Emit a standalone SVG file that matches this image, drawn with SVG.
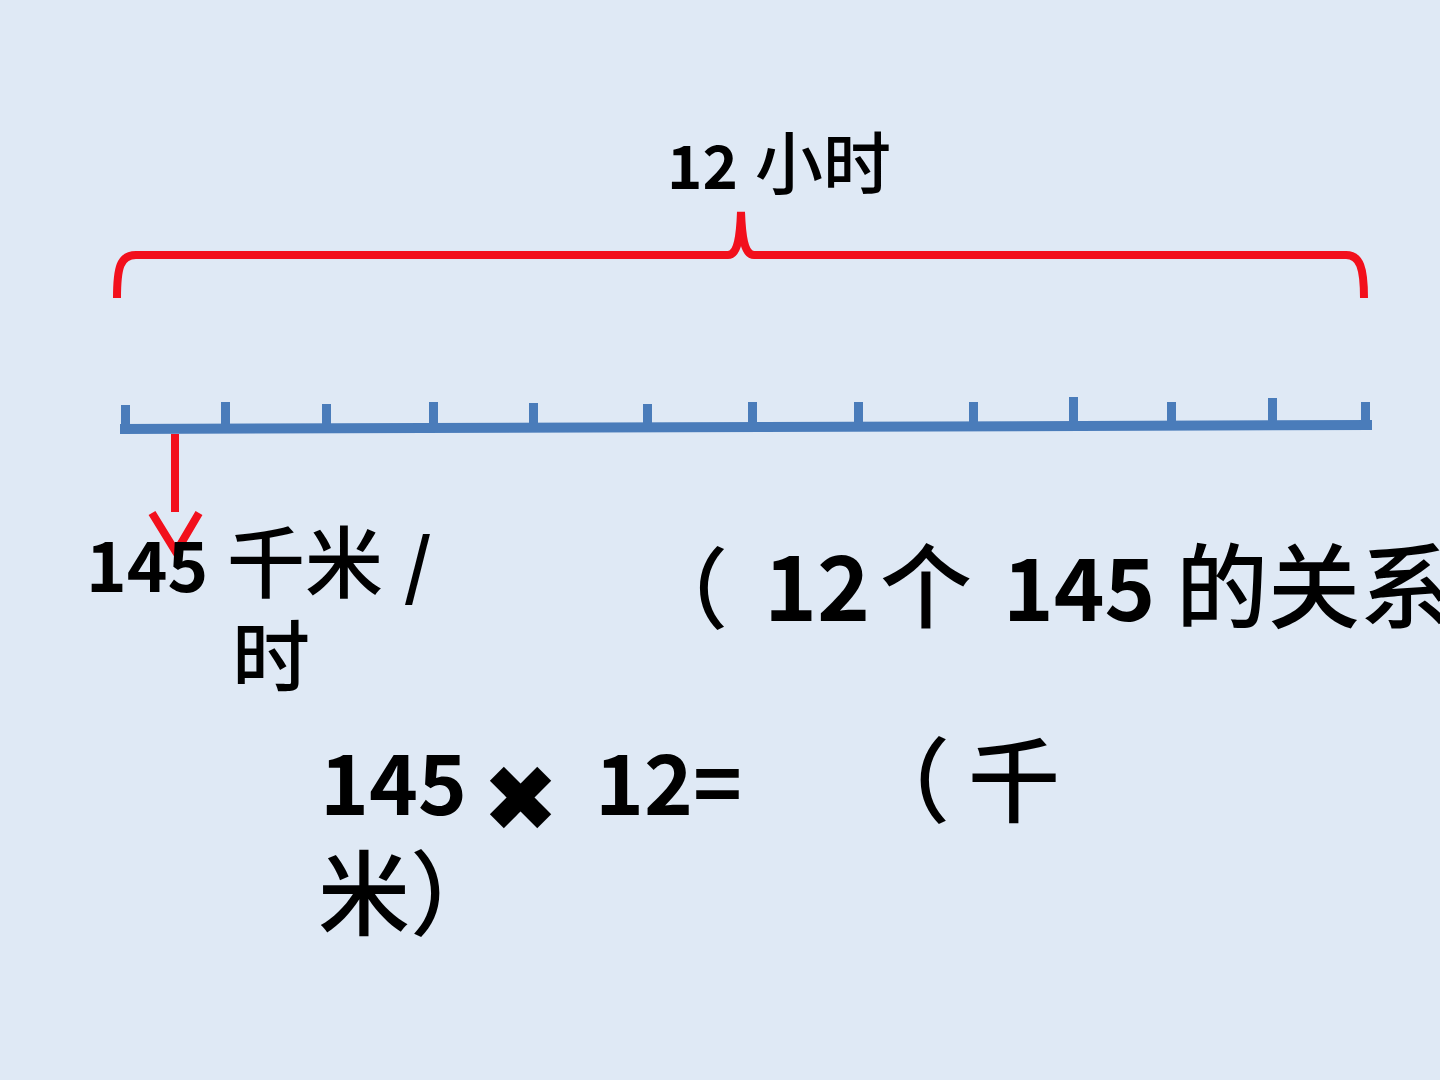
<svg xmlns="http://www.w3.org/2000/svg" width="1440" height="1080" viewBox="0 0 1440 1080">
<style>
.num{font-family:"Noto Sans CJK SC","Open Sans",sans-serif;font-weight:700;fill:#000}
.cjk{font-family:"Noto Sans CJK SC","Noto Sans CJK JP",sans-serif;font-weight:500;fill:#000}
.red{stroke:#F2101C;fill:none;stroke-width:8}
.blue{stroke:#4A7CBA;fill:none}
.tick{fill:#4A7CBA}
</style>
<rect width="1440" height="1080" fill="#DFE9F5"/>
<g id="brace">
<path class="red" d="M117,298 C117,268 120,255 136,255 L728,255 C737,255 740,240 741,212 C742,240 745,255 754,255 L1346,255 C1360,255 1364,268 1364,298"/>
</g>
<g id="numberline">
<line class="blue" x1="120" y1="429" x2="1372" y2="425" stroke-width="10"/>
<rect class="tick" x="121" y="405" width="9" height="24"/>
<rect class="tick" x="221" y="402" width="9" height="26"/>
<rect class="tick" x="322" y="404" width="9" height="24"/>
<rect class="tick" x="429" y="402" width="9" height="26"/>
<rect class="tick" x="529" y="403" width="9" height="25"/>
<rect class="tick" x="643" y="404" width="9" height="24"/>
<rect class="tick" x="748" y="402" width="9" height="25"/>
<rect class="tick" x="854" y="402" width="9" height="25"/>
<rect class="tick" x="969" y="402" width="9" height="25"/>
<rect class="tick" x="1069" y="397" width="9" height="29"/>
<rect class="tick" x="1167" y="402" width="9" height="24"/>
<rect class="tick" x="1268" y="398" width="9" height="28"/>
<rect class="tick" x="1361" y="402" width="9" height="24"/>
</g>
<g id="connectors">
<line class="red" x1="175" y1="434" x2="175" y2="512"/>
<polyline class="red" points="152,513 176,552 199,513"/>
</g>
<g id="label-12h">
<text class="num" x="667" y="189" font-size="60">12</text>
<text class="cjk" x="755" y="189" font-size="68">小时</text>
</g>
<g id="label-speed">
<text class="num" x="86" y="592" font-size="69">145</text>
<text class="cjk" x="227" y="592" font-size="78">千米</text>
<text class="num" x="404" y="592" font-size="72">/</text>
<text class="cjk" x="232" y="686" font-size="78">时</text>
</g>
<g id="label-relation">
<text class="cjk" x="640" y="621" font-size="88">（</text>
<text class="num" x="764" y="621" font-size="90">12</text>
<text class="cjk" x="880" y="621" font-size="92">个</text>
<text class="num" x="1003" y="621" font-size="86">145</text>
<text class="cjk" x="1176" y="621" font-size="92">的关系</text>
</g>
<g id="label-formula">
<text class="num" x="320" y="815" font-size="83">145</text>
<text x="482" y="831" font-size="92" font-family="DejaVu Sans,sans-serif" fill="#000">✖</text>
<text class="num" x="595" y="815" font-size="83">12=</text>
<text class="cjk" x="858" y="815" font-size="92">（</text>
<text class="cjk" x="968" y="815" font-size="92">千</text>
<text class="cjk" x="318" y="928" font-size="92">米）</text>
</g>
</svg>
